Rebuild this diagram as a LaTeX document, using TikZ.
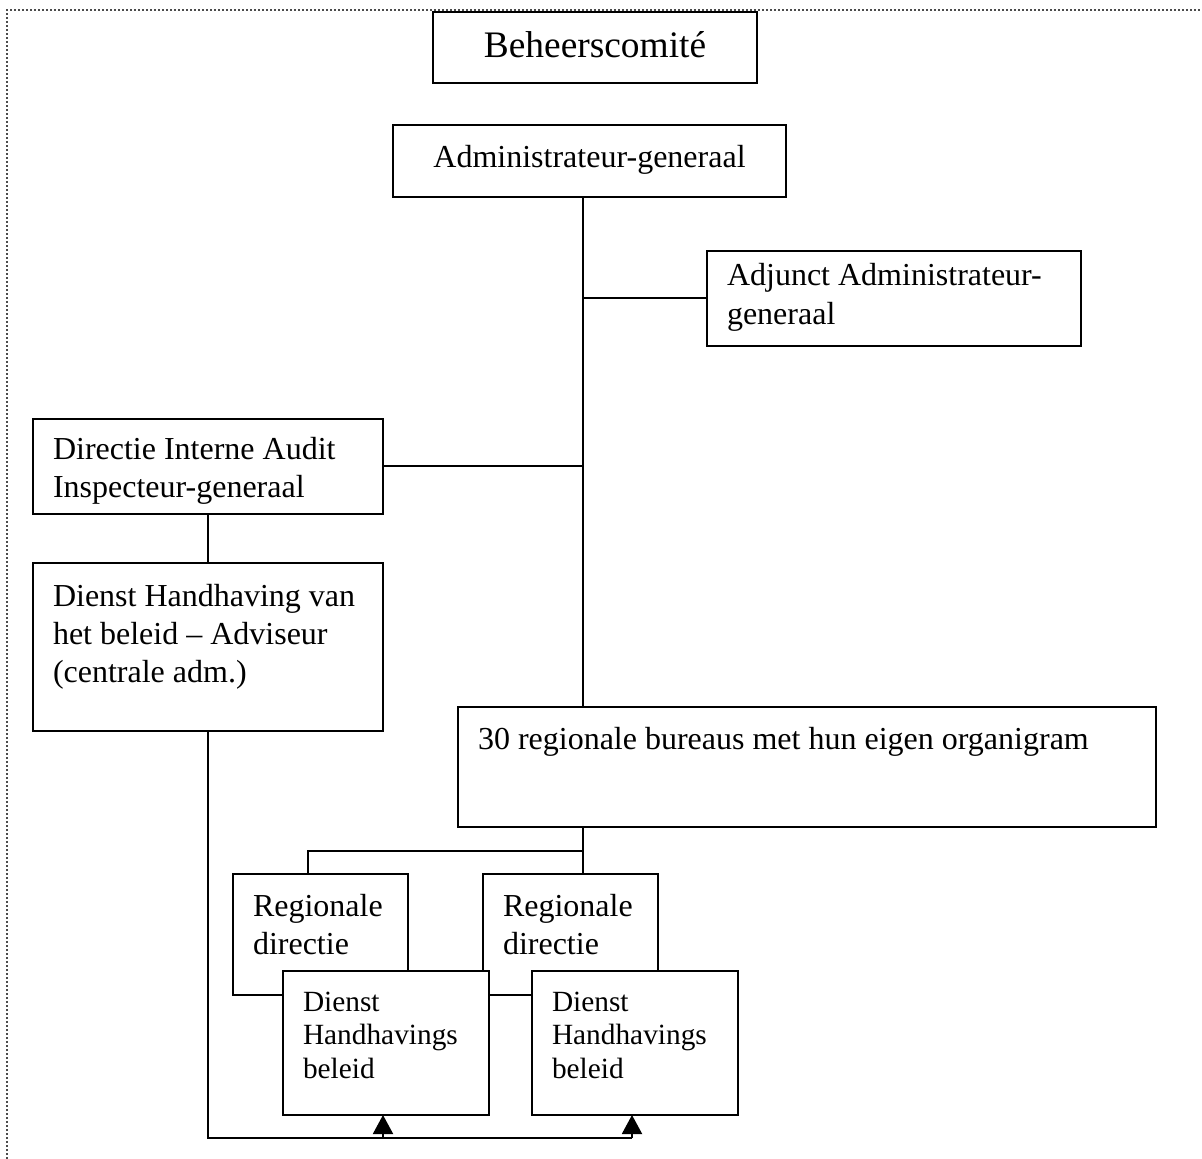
\documentclass[tikz,border=0pt]{standalone}
\usepackage{fontspec}
\setmainfont{Liberation Serif}
\usetikzlibrary{arrows.meta}

\begin{document}
\begin{tikzpicture}[
    x=0.5pt, y=-0.5pt,
    box/.style={draw=black, line width=1pt, fill=white, anchor=north west,
        outer sep=0pt, inner xsep=10pt, inner ysep=5pt, align=flush left,
        font=\fontsize{16}{19.2}\selectfont},
    small/.style={font=\fontsize{14.67}{16.75}\selectfont},
    line/.style={line width=1pt},
    arrow/.style={line width=1pt, -{Triangle[width=10pt,length=9.5pt]}},
    frame/.style={black!70, line width=1pt, dash pattern=on 1pt off 1pt}
]
    \useasboundingbox (0,0) rectangle (1202,1159);
    \draw[frame] (7,1159) -- (7,10) -- (1202,10);

    % top of the organisation
    \node[box, align=flush center, font=\fontsize{18.7}{22}\selectfont,
        text width=142pt, text height=18pt, text depth=7.5pt] (bc) at (433,12) {Beheerscomité};
    \node[box, align=flush center, text width=176.5pt, text height=16.5pt, text depth=9.5pt] (adg) at (393,125) {Administrateur-generaal};
    \node[box, text width=167pt, text height=12.5pt, text depth=25pt] (adj) at (707,251) {Adjunct Administrateur-\\generaal};
    \node[box, text width=155pt, text height=15pt, text depth=22.5pt] (dia) at (33,419) {Directie Interne Audit\\Inspecteur-generaal};
    \node[box, text width=155pt, text height=16.5pt, text depth=57.5pt] (dhc) at (33,563) {Dienst Handhaving van\\het beleid -- Adviseur\\(centrale adm.)};
    \node[box, text width=329pt, text height=16pt, text depth=34pt] (bur) at (458,707) {30 regionale bureaus met hun eigen organigram};

    % regional level
    \node[box, text width=67.5pt, text height=16pt, text depth=34.5pt] (rdl) at (233,874) {Regionale\\directie};
    \node[box, text width=67.5pt, text height=16pt, text depth=34.5pt] (rdr) at (483,874) {Regionale\\directie};
    \node[box, small, text width=83pt, text height=15pt, text depth=47pt] (dhl) at (283,971) {Dienst\\Handhavings\\beleid};
    \node[box, small, text width=83pt, text height=15pt, text depth=47pt] (dhr) at (532,971) {Dienst\\Handhavings\\beleid};

    \coordinate (stam) at (583,0);
    \coordinate (tak) at (308,851);
    \coordinate (p1) at (383,1138);
    \coordinate (p2) at (632,1138);

    \draw[line] (adg.south -| stam) -- (bur.north -| stam);
    \draw[line] (adj.west) -- (adj.west -| stam);
    \draw[line] (dia.east) -- (dia.east -| stam);
    \draw[line] (dia.south) -- (dhc.north);
    \draw[line] (bur.south -| stam) -- (rdr.north -| stam);
    \draw[line] (tak -| stam) -- (tak) -- (rdl.north -| tak);
    \draw[line] (dhc.south) |- (p2);
    \draw[arrow] (p1) -- (p1 |- dhl.south);
    \draw[arrow] (p2) -- (p2 |- dhr.south);
\end{tikzpicture}
\end{document}
